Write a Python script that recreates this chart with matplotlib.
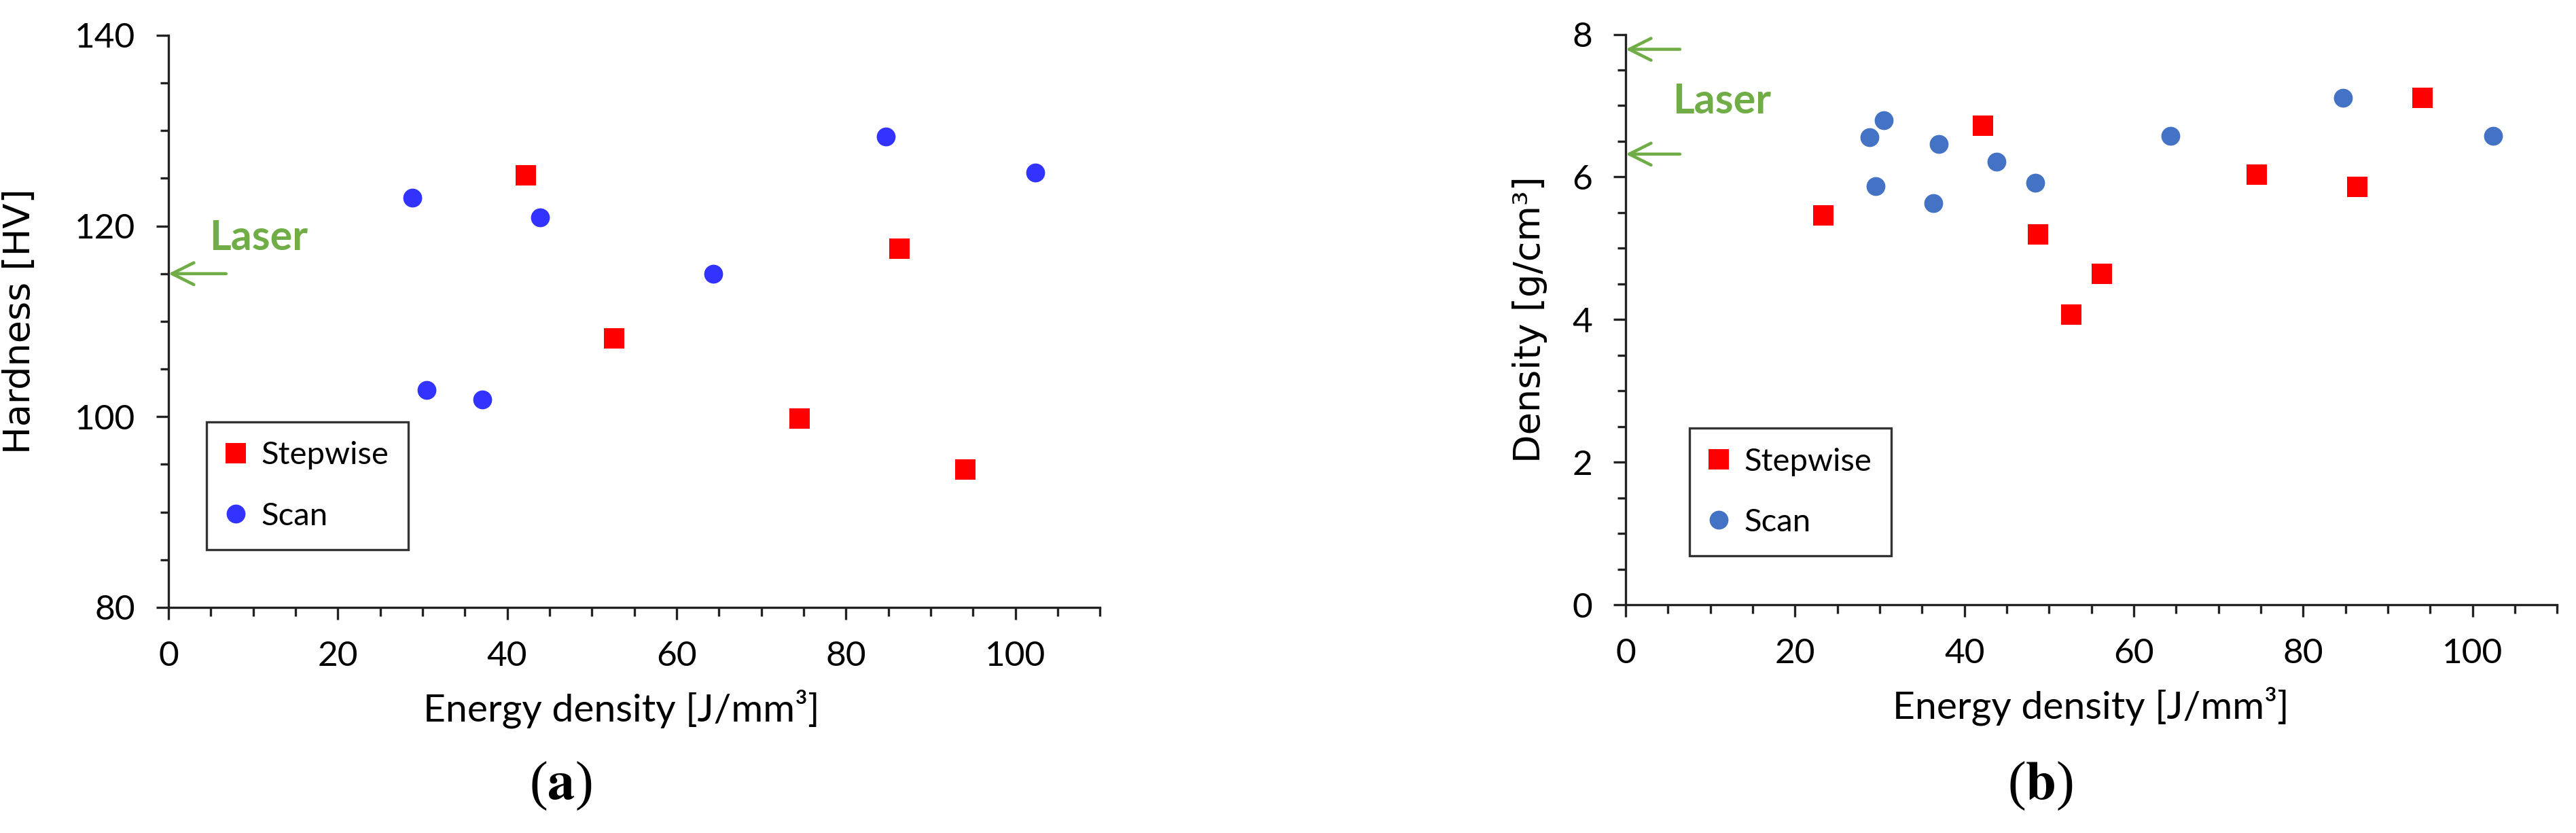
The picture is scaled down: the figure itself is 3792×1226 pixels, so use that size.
import matplotlib
matplotlib.use("Agg")
import matplotlib.pyplot as plt
from matplotlib.ticker import MultipleLocator

plt.rcParams["mathtext.fontset"] = "stix"

# Panel (a): hardness vs energy density
hard_step_x = [42.2, 52.6, 74.5, 86.3, 94.1]
hard_step_y = [125.3, 108.2, 99.8, 117.6, 94.5]
hard_scan_x = [28.8, 30.5, 37.1, 43.9, 64.3, 84.7, 102.4]
hard_scan_y = [123.0, 102.8, 101.8, 120.9, 115.0, 129.4, 125.6]
hard_laser = [115.0]

# Panel (b): density vs energy density
dens_step_x = [23.3, 42.2, 48.7, 52.6, 56.2, 74.5, 86.4, 94.1]
dens_step_y = [5.46, 6.72, 5.19, 4.07, 4.64, 6.03, 5.86, 7.11]
dens_scan_x = [28.8, 30.5, 29.5, 36.3, 37.0, 43.8, 48.4, 64.3, 84.7, 102.4]
dens_scan_y = [6.56, 6.79, 5.87, 5.63, 6.46, 6.21, 5.92, 6.58, 7.11, 6.58]
dens_laser = [7.79, 6.32]

RED = "#ff0000"
GREEN = "#70ad47"
TICK_FONT = "Lato"
YLABEL_FONT = "DejaVu Sans"


def style_axes(ax, ylim, ymajor, yminor, ylabel, ylabel_x, xlabel_x):
    ax.set_xlim(0, 110)
    ax.set_ylim(*ylim)
    ax.xaxis.set_major_locator(MultipleLocator(20))
    ax.xaxis.set_minor_locator(MultipleLocator(5))
    ax.yaxis.set_major_locator(MultipleLocator(ymajor))
    ax.yaxis.set_minor_locator(MultipleLocator(yminor))
    ax.set_xticks([0, 20, 40, 60, 80, 100])
    for s in ["top", "right"]:
        ax.spines[s].set_visible(False)
    for s in ["left", "bottom"]:
        ax.spines[s].set_linewidth(2.4)
        ax.spines[s].set_color("#222222")
    ax.tick_params(which="major", direction="out", length=13, width=2.4,
                   color="#222222", pad=22)
    ax.tick_params(which="minor", direction="out", length=9, width=2.4,
                   color="#222222")
    for lab in ax.get_xticklabels() + ax.get_yticklabels():
        lab.set_fontfamily(TICK_FONT)
        lab.set_fontsize(37)
    ax.set_xlabel("Energy density [J/mm³]", fontfamily=TICK_FONT, fontsize=41)
    ax.xaxis.set_label_coords(xlabel_x, -0.143)
    ax.set_ylabel(ylabel, fontfamily=YLABEL_FONT, fontsize=39)
    ax.yaxis.set_label_coords(ylabel_x, 0.5)


def laser_arrow(ax, y, tail_x):
    ax.annotate("", xy=(0, y), xytext=(tail_x, y),
                arrowprops=dict(arrowstyle="->", color=GREEN, lw=3.3,
                                mutation_scale=58, shrinkA=0, shrinkB=0),
                annotation_clip=False)


fig = plt.figure(figsize=(37.92, 12.26), dpi=100)
ax_a = fig.add_axes([0.0654, 0.2708, 0.3616, 0.6868])
ax_b = fig.add_axes([0.6311, 0.2740, 0.3616, 0.6848])

# (a)
ax_a.plot(hard_step_x, hard_step_y, "s", color=RED, ms=21, mew=0,
          label="Stepwise")
ax_a.plot(hard_scan_x, hard_scan_y, "o", color="#3333ff", ms=20, mew=0,
          label="Scan")
style_axes(ax_a, (80, 140), 20, 5, "Hardness [HV]", -0.141, 0.486)
for y in hard_laser:
    laser_arrow(ax_a, y, 6.8)
ax_a.text(4.8, 117.5, "Laser", color=GREEN, fontfamily=TICK_FONT,
          fontweight="bold", fontsize=44, va="baseline", ha="left")
leg = ax_a.legend(loc="lower left", bbox_to_anchor=(0.041, 0.101),
                  prop={"family": TICK_FONT, "size": 34}, frameon=True,
                  fancybox=False, edgecolor="black", labelspacing=1.0,
                  handlelength=0.6, handletextpad=0.5, borderpad=0.6,
                  borderaxespad=0)
leg.get_frame().set_linewidth(2.4)

# (b)
ax_b.plot(dens_step_x, dens_step_y, "s", color=RED, ms=21, mew=0,
          label="Stepwise")
ax_b.plot(dens_scan_x, dens_scan_y, "o", color="#4472c4", ms=20, mew=0,
          label="Scan")
style_axes(ax_b, (0, 8), 2, 0.5, "Density [g/cm³]", -0.084, 0.499)
for y in dens_laser:
    laser_arrow(ax_b, y, 6.4)
ax_b.text(5.5, 6.89, "Laser", color=GREEN, fontfamily=TICK_FONT,
          fontweight="bold", fontsize=44, va="baseline", ha="left")
leg = ax_b.legend(loc="lower left", bbox_to_anchor=(0.0686, 0.0857),
                  prop={"family": TICK_FONT, "size": 34}, frameon=True,
                  fancybox=False, edgecolor="black", labelspacing=1.0,
                  handlelength=0.6, handletextpad=0.5, borderpad=0.6,
                  borderaxespad=0)
leg.get_frame().set_linewidth(2.4)

fig.text(0.2176, 0.0563, r"($\mathbf{a}$)", fontfamily="Liberation Serif",
         fontsize=58, ha="center", va="center")
fig.text(0.792, 0.0563, r"($\mathbf{b}$)", fontfamily="Liberation Serif",
         fontsize=58, ha="center", va="center")

fig.savefig("out.png", dpi=100)
